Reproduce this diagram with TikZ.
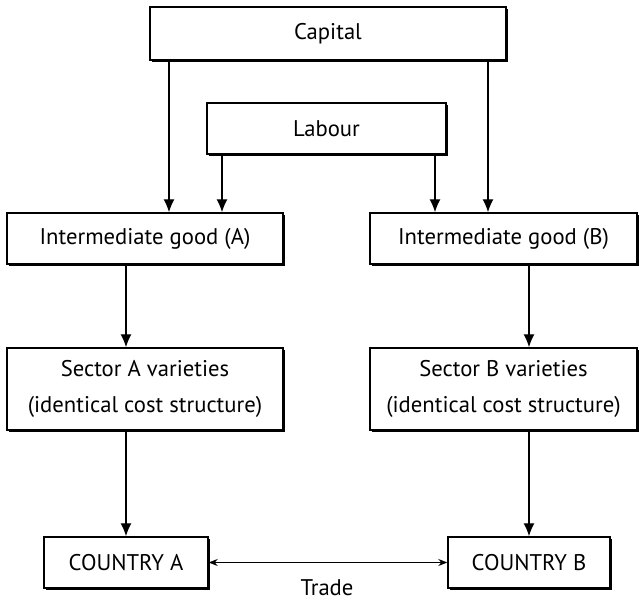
\documentclass[tikz,border=0pt]{standalone}
\usepackage{fontspec}
\setmainfont{PT Sans}
\usepackage{tikz}
\usetikzlibrary{arrows.meta, shadows}

\begin{document}
\begin{tikzpicture}[box/.style={draw, line width=0.8pt, fill=white, inner sep=0pt, align=center, font=\fontsize{12.9}{20}\selectfont, drop shadow={shadow xshift=1.3pt, shadow yshift=-1.3pt, fill=black, opacity=1}}, arr/.style={line width=0.8pt, -{Latex[length=2.6mm, width=2.2mm]}}, trade/.style={line width=0.5pt, {Stealth[length=1.8mm, width=1.4mm]}-{Stealth[length=1.8mm, width=1.4mm]}}]
\useasboundingbox (0, 0) rectangle (12.78, -12.02);
\node (cap) at (6.56, -0.67) [box, minimum width=7.12cm, minimum height=1.06cm]{Capital};
\node (lab) at (6.53, -2.57) [box, minimum width=4.78cm, minimum height=1.02cm]{Labour};
\node (ia) at (2.9, -4.77) [box, minimum width=5.52cm, minimum height=1.02cm]{Intermediate good (A)};
\node (ib) at (10.07, -4.77) [box, minimum width=5.34cm, minimum height=1.02cm]{Intermediate good (B)};
\node (sa) at (2.9, -7.78) [box, minimum width=5.52cm, minimum height=1.64cm]{Sector A varieties\\(identical cost structure)};
\node (sb) at (10.07, -7.78) [box, minimum width=5.34cm, minimum height=1.64cm]{Sector B varieties\\(identical cost structure)};
\node (ca) at (2.52, -11.25) [box, minimum width=3.28cm, minimum height=1.02cm]{COUNTRY A};
\node (cb) at (10.58, -11.25) [box, minimum width=3.24cm, minimum height=1.02cm]{COUNTRY B};
\node (tr) at (6.54, -11.76) [font=\fontsize{12.9}{15}\selectfont]{Trade};
\draw[arr] (3.38,0 |- cap.south) -- (3.38,0 |- ia.north);
\draw[arr] (9.76,0 |- cap.south) -- (9.76,0 |- ib.north);
\draw[arr] (4.44,0 |- lab.south) -- (4.44,0 |- ia.north);
\draw[arr] (8.70,0 |- lab.south) -- (8.70,0 |- ib.north);
\draw[arr] (ca.north |- ia.south) -- (ca.north |- sa.north);
\draw[arr] (cb.north |- ib.south) -- (cb.north |- sb.north);
\draw[arr] (ca.north |- sa.south) -- (ca.north);
\draw[arr] (cb.north |- sb.south) -- (cb.north);
\draw[trade] (ca) -- (cb);
\end{tikzpicture}
\end{document}
